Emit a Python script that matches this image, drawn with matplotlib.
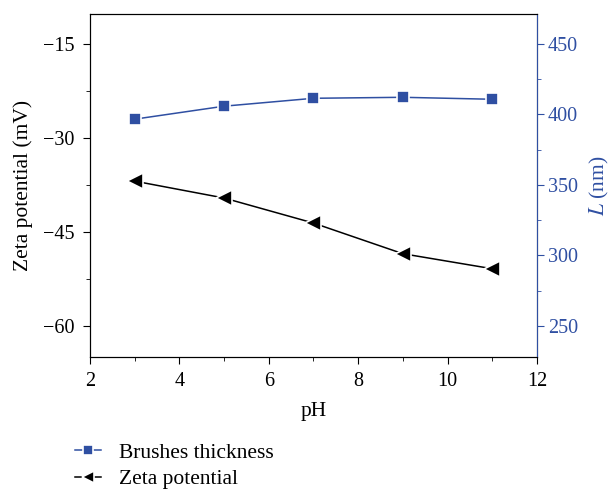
import matplotlib
matplotlib.use('Agg')
import matplotlib.pyplot as plt
from matplotlib.ticker import MultipleLocator

plt.rcParams['font.family'] = ['Liberation Serif', 'DejaVu Serif']
plt.rcParams['mathtext.fontset'] = 'stix'

ph = [3, 5, 7, 9, 11]
zeta = [-36.9, -39.6, -43.6, -48.5, -50.9]
thickness = [396.5, 405.7, 411.3, 412.0, 410.6]

blue = '#2f4fa2'

fig = plt.figure(figsize=(6.1, 4.92), dpi=100)
ax = fig.add_axes([0.1475, 0.2744, 0.7328, 0.6971])
ax2 = ax.twinx()

l1, = ax2.plot(ph, thickness, color=blue, lw=1.1, marker='s', ms=9,
               mec='white', mew=1.2, label='Brushes thickness')
l2, = ax.plot(ph, zeta, color='black', lw=1.1, marker='<', ms=11,
              mec='white', mew=1.2, label='Zeta potential')

ax.set_xlim(2, 12)
ax.set_ylim(-65, -10.2)
ax2.set_ylim(228, 471)
ax.xaxis.set_major_locator(MultipleLocator(2))
ax.xaxis.set_minor_locator(MultipleLocator(1))
ax.yaxis.set_major_locator(MultipleLocator(15))
ax.yaxis.set_minor_locator(MultipleLocator(7.5))
ax2.yaxis.set_major_locator(MultipleLocator(50))
ax2.yaxis.set_minor_locator(MultipleLocator(25))

ax.tick_params(which='both', direction='out', labelsize=14.5)
ax.tick_params(which='major', length=5, pad=6)
ax.tick_params(which='minor', length=3)
ax.set_yticks([-15, -30, -45, -60])
ax.set_yticklabels(['\u221215', '\u221230', '\u221245', '\u221260'])
ax2.tick_params(which='both', direction='out', labelsize=14.5, colors=blue)
ax2.tick_params(which='major', length=5, pad=3)
ax2.tick_params(which='minor', length=3)
ax2.spines['right'].set_color(blue)

ax.set_xlabel('pH', fontsize=15.5, labelpad=8)
ax.set_ylabel('Zeta potential (mV)', fontsize=15.5, labelpad=7)
ax2.set_ylabel('$L$ (nm)', fontsize=15.5, color=blue, labelpad=7)

fig.legend(handles=[l1, l2], loc='upper left', bbox_to_anchor=(0.123, 0.1),
           frameon=False, fontsize=15.5, handlelength=1.2, handletextpad=0.85,
           labelspacing=0.3, borderpad=0, borderaxespad=0, markerscale=0.8)

fig.savefig('out.png', dpi=100)
